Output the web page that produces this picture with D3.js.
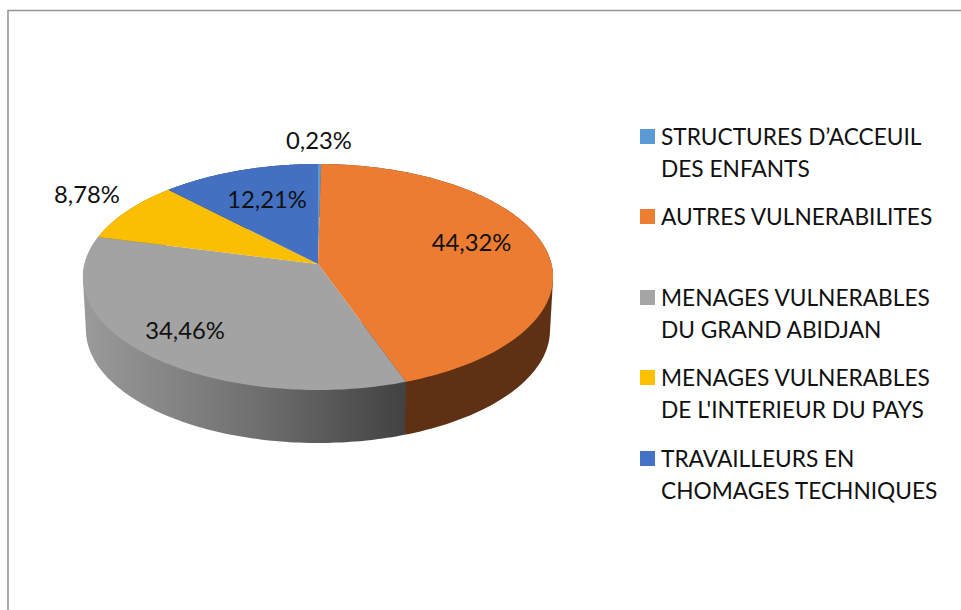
<!DOCTYPE html>
<html>
<head>
<meta charset="utf-8">
<script src="https://cdn.jsdelivr.net/npm/d3@7"></script>
<style>
  html, body { margin: 0; padding: 0; background: #fff; }
  svg { display: block; }
  text { font-family: Lato, "Open Sans", sans-serif; fill: #111; }
</style>
</head>
<body>
<div id="chart"></div>
<script>
var categories = ["STRUCTURES D\u2019ACCEUIL|DES ENFANTS", "AUTRES VULNERABILITES", "MENAGES VULNERABLES|DU GRAND ABIDJAN", "MENAGES VULNERABLES|DE L'INTERIEUR DU PAYS", "TRAVAILLEURS EN|CHOMAGES TECHNIQUES"];
var values = [0.23, 44.32, 34.46, 8.78, 12.21];
var valueLabels = ["0,23%", "44,32%", "34,46%", "8,78%", "12,21%"];
var faceColors = ["#5B9BD5", "#EB7C31", "#A3A3A3", "#FCBE00", "#4370C1"];
var legendColors = ["#5B9BD5", "#ED7D31", "#A5A5A5", "#FFC000", "#4472C4"];
var wallColors = ["#34587a", "#5F3114", "url(#greyWall)", "#8a6800", "#263f6e"];

var width = 961, height = 610;
var pieCfg = { cx: 318, cy: 264, a: 233.5, b: 111.5, k: 0.115, depth: 53, shrink: 0.987 };
// label centres, px
var labelPos = [[319, 141], [471.5, 243], [185, 331], [87, 195], [267, 200]];
var legendCfg = { x: 640, textX: 661, size: 15, rows: [144, 224, 305, 385, 466], lineGap: 32.5 };

var svg = d3.select("#chart").append("svg").attr("width", width).attr("height", height);

// frame is cut off by the picture on the right and at the bottom
svg.append("path").attr("d", "M8,610V10.5H961").attr("fill", "none").attr("stroke", "#959595").attr("stroke-width", 1.6);

var grad = svg.append("defs").append("linearGradient").attr("id", "greyWall")
  .attr("gradientUnits", "userSpaceOnUse").attr("x1", 85).attr("x2", 404).attr("y1", 0).attr("y2", 0);
grad.append("stop").attr("offset", "0%").attr("stop-color", "#9a9a9a");
grad.append("stop").attr("offset", "55%").attr("stop-color", "#6e6e6e");
grad.append("stop").attr("offset", "100%").attr("stop-color", "#424242");

// tilted disc: the centre of the pie does not sit in the middle of the ellipse
function project(angle) {
  var u = Math.sin(angle), v = -Math.cos(angle), w = 1 - pieCfg.k * v;
  return [pieCfg.cx + pieCfg.a * u / w, pieCfg.cy + pieCfg.b * v / w];
}
function lower(p) {
  return [pieCfg.cx + (p[0] - pieCfg.cx) * pieCfg.shrink, p[1] + pieCfg.depth];
}
function arcPoints(d) {
  return d3.range(0, 121).map(function (i) { return project(d.startAngle + (d.endAngle - d.startAngle) * i / 120); });
}

var arcs = d3.pie().sort(null)(values);
var line = d3.line();

// walls first, the faces cover whatever belongs to the back
// hull gives the straight edge at the far left and right of the disc
svg.selectAll(".wall").data(arcs).join("path").attr("class", "wall")
  .attr("d", function (d) {
    var top = arcPoints(d);
    return line(d3.polygonHull(top.concat(top.map(lower)))) + "Z";
  })
  .attr("fill", function (d, i) { return wallColors[i]; });

svg.selectAll(".face").data(arcs).join("path").attr("class", "face")
  .attr("d", function (d) { return line([[pieCfg.cx, pieCfg.cy]].concat(arcPoints(d))) + "Z"; })
  .attr("fill", function (d, i) { return faceColors[i]; });

svg.selectAll(".value").data(valueLabels).join("text").attr("class", "value")
  .attr("x", function (d, i) { return labelPos[i][0]; })
  .attr("y", function (d, i) { return labelPos[i][1]; })
  .attr("dy", "0.35em").attr("text-anchor", "middle").attr("font-size", 23.8)
  .text(function (d) { return d; });

var rows = svg.selectAll(".legend").data(categories).join("g").attr("class", "legend");
rows.append("rect")
  .attr("x", legendCfg.x).attr("y", function (d, i) { return legendCfg.rows[i] - legendCfg.size; })
  .attr("width", legendCfg.size).attr("height", legendCfg.size)
  .attr("fill", function (d, i) { return legendColors[i]; });
rows.each(function (d, i) {
  d3.select(this).selectAll("text").data(d.split("|")).join("text")
    .attr("x", legendCfg.textX)
    .attr("y", function (t, j) { return legendCfg.rows[i] + 0.5 + j * legendCfg.lineGap; })
    .attr("font-size", 22.7)
    .text(function (t) { return t; });
});
</script>
</body>
</html>
